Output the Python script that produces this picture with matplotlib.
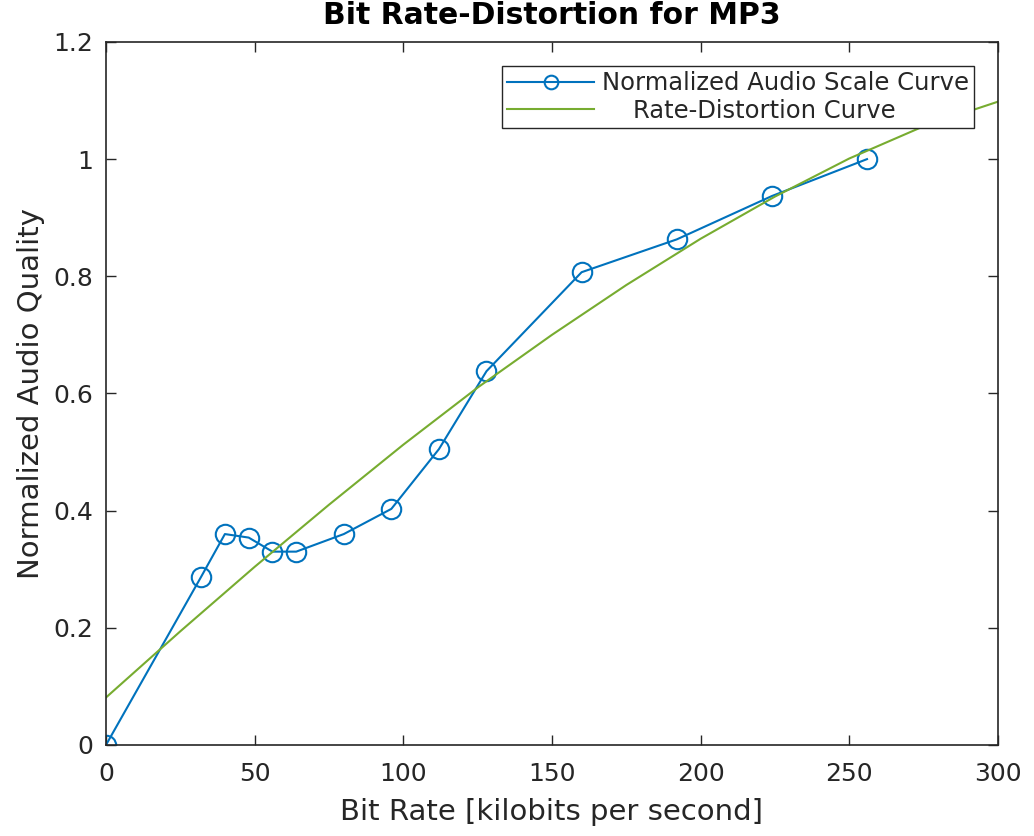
import matplotlib.pyplot as plt

# MP3 bit rates and normalized quality
bit_rates = [0, 32, 40, 48, 56, 64, 80, 96, 112, 128, 160, 192, 224, 256]
quality = [0.0, 0.287, 0.360, 0.354, 0.330, 0.330, 0.360, 0.403, 0.505,
           0.638, 0.807, 0.863, 0.937, 1.0]

# rate-distortion curve
rd_rates = [0, 25, 50, 75, 100, 125, 150, 175, 200, 225, 250, 275, 300]
rd_quality = [0.081, 0.194, 0.304, 0.410, 0.5125, 0.610, 0.700, 0.785,
              0.864, 0.936, 1.001, 1.056, 1.098]

txt = '#262626'
blue = '#0072BD'
green = '#77AC30'

fig = plt.figure(figsize=(10.34, 8.36), dpi=100)
ax = fig.add_axes([0.1025, 0.1089, 0.8625, 0.8409])

ax.plot(bit_rates, quality, '-o', color=blue, lw=1.5, ms=14,
        mfc='none', mew=1.5, label='Normalized Audio Scale Curve')
ax.plot(rd_rates, rd_quality, '-', color=green, lw=1.5,
        label='    Rate-Distortion Curve')

ax.set_xlim(0, 300)
ax.set_ylim(0, 1.2)
ax.set_xticks([0, 50, 100, 150, 200, 250, 300])
ax.set_yticks([0, 0.2, 0.4, 0.6, 0.8, 1.0, 1.2])
ax.set_yticklabels(['0', '0.2', '0.4', '0.6', '0.8', '1', '1.2'])

ax.tick_params(direction='in', top=True, right=True, length=7, width=1,
               colors=txt, labelsize=18)
ax.tick_params(axis='x', pad=12)
ax.tick_params(axis='y', pad=9)
for s in ax.spines.values():
    s.set_color(txt)
    s.set_linewidth(1.2)

ax.set_xlabel('Bit Rate [kilobits per second]', fontsize=21, color=txt,
              labelpad=9)
ax.set_ylabel('Normalized Audio Quality', fontsize=21, color=txt,
              labelpad=6)
ax.set_title('Bit Rate-Distortion for MP3', fontsize=21.5, fontweight='bold',
             color='black', pad=13)

leg = ax.legend(loc='upper right', fontsize=17.5, handlelength=3.6,
                fancybox=False, edgecolor=txt, framealpha=1,
                borderaxespad=1.0, labelspacing=0.15, borderpad=0.2,
                handletextpad=0.3, markerscale=0.7)
leg.get_frame().set_linewidth(1.0)
for t in leg.get_texts():
    t.set_color(txt)

fig.savefig('out.png', dpi=100)
